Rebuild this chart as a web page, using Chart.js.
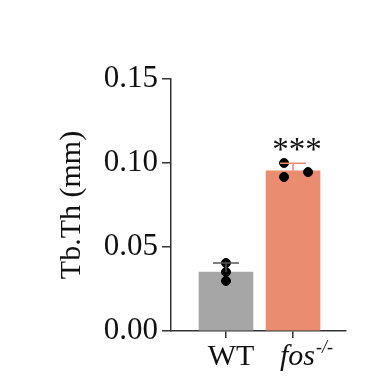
<!DOCTYPE html>
<html>
<head>
<meta charset="utf-8">
<script src="https://cdn.jsdelivr.net/npm/chart.js@4"></script>
<style>
  html, body { margin: 0; padding: 0; background: #fff; }
  #wrap { width: 387px; height: 387px; }
</style>
</head>
<body>
<div id="wrap"><canvas id="grafico"></canvas></div>
<script>
// Dados
const grupos = ['WT', 'fos'];
const medias = [0.0351, 0.0954];
const desvios = [0.0054, 0.0044];
const cores = ['#a6a6a6', '#e98c6f'];
const coresErro = ['#555555', '#e98c6f'];
const pontosWT = [0.0405, 0.0351, 0.0298];
const pontosFos = [0.1000, 0.0917, 0.0946];
const jitterWT = [0, 0, 0];
const jitterFos = [-0.134, -0.134, 0.224];
const ticksY = [0, 0.05, 0.10, 0.15];
const signif = '***';

const fonte = '"Liberation Serif", "Times New Roman", serif';

const barras = grupos.map((g, i) => ({ x: i, y: medias[i] }));
const pontos = pontosWT.map((v, i) => ({ x: 0 + jitterWT[i], y: v }))
  .concat(pontosFos.map((v, i) => ({ x: 1 + jitterFos[i], y: v })));

// Barras de erro, asteriscos e rótulos do eixo x
const extras = {
  id: 'extras',
  afterDatasetsDraw(chart) {
    const { ctx, scales: { x, y } } = chart;
    ctx.save();
    medias.forEach((m, i) => {
      const px = x.getPixelForValue(i);
      const y0 = y.getPixelForValue(m);
      const y1 = y.getPixelForValue(m + desvios[i]);
      ctx.strokeStyle = coresErro[i];
      ctx.lineWidth = 1.5;
      ctx.beginPath();
      ctx.moveTo(px, y0);
      ctx.lineTo(px, y1);
      ctx.moveTo(px - 13, y1);
      ctx.lineTo(px + 13, y1);
      ctx.stroke();
    });
    ctx.restore();
  },
  afterDraw(chart) {
    const { ctx, scales: { x, y } } = chart;
    ctx.save();
    ctx.fillStyle = '#111';
    // asteriscos
    const topo = y.getPixelForValue(medias[1] + desvios[1]);
    ctx.font = '33px ' + fonte;
    ctx.textAlign = 'center';
    ctx.textBaseline = 'alphabetic';
    ctx.fillText(signif, x.getPixelForValue(1) + 4, topo - 3);
    // rótulos
    const base = chart.chartArea.bottom + 34;
    ctx.font = '30px ' + fonte;
    ctx.fillText(grupos[0], x.getPixelForValue(0) + 5, base);
    ctx.textAlign = 'left';
    ctx.font = 'italic 30px ' + fonte;
    const x1 = x.getPixelForValue(1) - 13;
    ctx.fillText(grupos[1], x1, base);
    const w = ctx.measureText(grupos[1]).width;
    ctx.font = 'italic 18px ' + fonte;
    ctx.fillText('-/-', x1 + w + 1, base - 12);
    ctx.restore();
  }
};

new Chart(document.getElementById('grafico'), {
  data: {
    datasets: [
      {
        type: 'bar',
        data: barras,
        backgroundColor: cores,
        barThickness: 54,
        order: 2
      },
      {
        type: 'scatter',
        data: pontos,
        backgroundColor: '#000',
        borderColor: '#000',
        pointRadius: 4.5,
        order: 1
      }
    ]
  },
  options: {
    responsive: true,
    maintainAspectRatio: false,
    animation: false,
    layout: { padding: { left: 54, top: 79, right: 41, bottom: 0 } },
    plugins: { legend: { display: false }, tooltip: { enabled: false } },
    scales: {
      x: {
        type: 'linear',
        offset: false,
        min: -0.82,
        max: 1.79,
        afterBuildTicks: s => { s.ticks = [{ value: 0 }, { value: 1 }]; },
        afterFit: s => { s.height = 56; },
        ticks: { callback: () => '', font: { size: 10 } },
        grid: { drawOnChartArea: false, offset: false, tickLength: 7, color: '#333', lineWidth: 1.5 },
        border: { color: '#333', width: 1.5 }
      },
      y: {
        min: 0,
        max: 0.15,
        afterBuildTicks: s => { s.ticks = ticksY.map(v => ({ value: v })); },
        afterFit: s => { s.width = 117; },
        ticks: {
          callback: v => v.toFixed(2),
          font: { family: fonte, size: 31 },
          color: '#111',
          padding: 4
        },
        grid: { drawOnChartArea: false, tickLength: 9, color: '#333', lineWidth: 1.5 },
        border: { color: '#333', width: 1.5 },
        title: {
          display: true,
          text: 'Tb.Th (mm)',
          font: { family: fonte, size: 30 },
          color: '#111',
          padding: 0
        }
      }
    }
  },
  plugins: [extras]
});
</script>
</body>
</html>
